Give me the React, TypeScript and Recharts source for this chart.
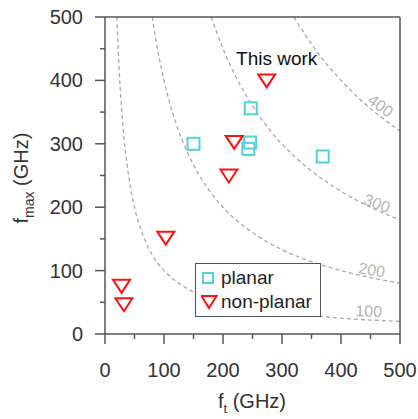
import { ComposedChart, Line, Scatter, XAxis, YAxis, Legend, ReferenceDot } from 'recharts';

const planarFt = [150, 247, 246, 243, 369];
const planarFmax = [300, 356, 302, 292, 280];
const nonPlanarFt = [274, 219, 210, 103, 28, 32];
const nonPlanarFmax = [400, 303, 250, 152, 76, 47];

// dashed iso-lines sqrt(ft*fmax) = 100..400
const isoFt = [20, 25, 30, 40, 50, 60, 80, 100, 130, 160, 200, 250, 300, 350, 400, 450, 500];
const iso100 = [500, 400, 333, 250, 200, 167, 125, 100, 77, 62, 50, 40, 33, 29, 25, 22, 20];
const iso200Ft = [80, 90, 100, 120, 140, 160, 200, 250, 300, 350, 400, 450, 500];
const iso200 = [500, 444, 400, 333, 286, 250, 200, 160, 133, 114, 100, 89, 80];
const iso300Ft = [180, 200, 220, 250, 280, 320, 360, 400, 450, 500];
const iso300 = [500, 450, 409, 360, 321, 281, 250, 225, 200, 180];
const iso400Ft = [320, 340, 360, 380, 400, 430, 460, 500];
const iso400 = [500, 471, 444, 421, 400, 372, 348, 320];

const isoLabels = ['100', '200', '300', '400'];
const ticks = [0, 50, 100, 150, 200, 250, 300, 350, 400, 450, 500];

const planarData = planarFt.map((x, i) => ({ x, y: planarFmax[i] }));
const nonPlanarData = nonPlanarFt.map((x, i) => ({ x, y: nonPlanarFmax[i] }));
const isoData = [
  isoFt.map((x, i) => ({ x, y: iso100[i] })),
  iso200Ft.map((x, i) => ({ x, y: iso200[i] })),
  iso300Ft.map((x, i) => ({ x, y: iso300[i] })),
  iso400Ft.map((x, i) => ({ x, y: iso400[i] })),
];

const AXIS = '#555';
const CYAN = '#4fd3d8';
const RED = '#ff1010';
const FONT = 'Arial, "Liberation Sans", Helvetica, sans-serif';

const makeTick = (side: string) => (props: any) => {
  const { x, y, payload } = props;
  const major = payload.value % 100 === 0;
  const len = major ? 10 : 5;
  let line;
  let label = null;
  if (side === 'bottom') {
    line = <line x1={x} y1={y} x2={x} y2={y + len} stroke={AXIS} strokeWidth={1.5} />;
    if (major) label = <text x={x} y={y + 43} textAnchor="middle" fontSize={20} fill="#333" fontFamily={FONT}>{payload.value}</text>;
  } else if (side === 'left') {
    line = <line x1={x - len} y1={y} x2={x} y2={y} stroke={AXIS} strokeWidth={1.5} />;
    if (major) label = <text x={x - 22} y={y + 7} textAnchor="end" fontSize={20} fill="#333" fontFamily={FONT}>{payload.value}</text>;
  } else if (side === 'top') {
    line = <line x1={x} y1={y} x2={x} y2={y - len} stroke={AXIS} strokeWidth={1.5} />;
  } else {
    line = <line x1={x} y1={y} x2={x + len} y2={y} stroke={AXIS} strokeWidth={1.5} />;
  }
  return <g>{line}{label}</g>;
};

const Square = (props: any) => (
  <rect x={props.cx - 6} y={props.cy - 6} width={12} height={12} fill="none" stroke={CYAN} strokeWidth={2} />
);

const Triangle = (props: any) => (
  <path
    d={`M${props.cx - 8.5},${props.cy - 6} L${props.cx + 8.5},${props.cy - 6} L${props.cx},${props.cy + 7} Z`}
    fill="none"
    stroke={RED}
    strokeWidth={2}
  />
);

const isoText = (text: string, angle: number) => (p: any) => (
  <text
    x={p.cx}
    y={p.cy}
    transform={`rotate(${angle} ${p.cx} ${p.cy})`}
    textAnchor="middle"
    dominantBaseline="central"
    fontSize={16}
    fill="#b4b4b4"
    fontFamily={FONT}
  >
    {text}
  </text>
);

const renderLegend = () => (
  <div
    style={{
      border: `1.5px solid ${AXIS}`,
      background: '#fff',
      boxSizing: 'border-box',
      width: 126,
      height: 54,
      fontFamily: FONT,
      fontSize: 19,
      color: '#222',
      padding: '2px 0 0 5px',
      lineHeight: '24px',
    }}
  >
    <div style={{ display: 'flex', alignItems: 'center' }}>
      <svg width={18} height={24}>
        <rect x={2} y={7} width={10} height={10} fill="none" stroke={CYAN} strokeWidth={2} />
      </svg>
      <span style={{ marginLeft: 2 }}>planar</span>
    </div>
    <div style={{ display: 'flex', alignItems: 'center' }}>
      <svg width={18} height={24}>
        <path d="M0.5,6 L15.5,6 L8,18 Z" fill="none" stroke={RED} strokeWidth={2} />
      </svg>
      <span style={{ marginLeft: 2 }}>non-planar</span>
    </div>
  </div>
);

export default function App() {
  return (
    <div style={{ position: 'absolute', left: 0, top: 0, background: '#fff' }}>
      <ComposedChart width={418} height={419} margin={{ top: 0, right: 0, bottom: 0, left: 0 }}>
        <XAxis
          type="number"
          dataKey="x"
          domain={[0, 500]}
          ticks={ticks}
          height={85}
          tickSize={0}
          tickMargin={0}
          tick={makeTick('bottom')}
          axisLine={{ stroke: AXIS, strokeWidth: 1.5 }}
          interval={0}
          label={{
            content: () => (
              <text x={252} y={408} textAnchor="middle" fontSize={20} fill="#333" fontFamily={FONT}>
                f<tspan fontSize={13} dy={5}>t</tspan>
                <tspan dy={-5}> (GHz)</tspan>
              </text>
            ),
          }}
        />
        <XAxis
          xAxisId="top"
          orientation="top"
          type="number"
          domain={[0, 500]}
          ticks={ticks}
          height={17}
          tickSize={0}
          tickMargin={0}
          tick={makeTick('top')}
          axisLine={{ stroke: AXIS, strokeWidth: 1.5 }}
          interval={0}
        />
        <YAxis
          type="number"
          dataKey="y"
          domain={[0, 500]}
          ticks={ticks}
          width={105}
          tickSize={0}
          tickMargin={0}
          tick={makeTick('left')}
          axisLine={{ stroke: AXIS, strokeWidth: 1.5 }}
          interval={0}
          label={{
            content: () => (
              <text
                x={28}
                y={178}
                transform="rotate(-90 28 178)"
                textAnchor="middle"
                fontSize={20}
                fill="#333"
                fontFamily={FONT}
              >
                f<tspan fontSize={14} dy={6}>max</tspan>
                <tspan dy={-6}> (GHz)</tspan>
              </text>
            ),
          }}
        />
        <YAxis
          yAxisId="right"
          orientation="right"
          type="number"
          domain={[0, 500]}
          ticks={ticks}
          width={18}
          tickSize={0}
          tickMargin={0}
          tick={makeTick('right')}
          axisLine={{ stroke: AXIS, strokeWidth: 1.5 }}
          interval={0}
        />
        {isoData.map((d, i) => (
          <Line
            key={`iso-${i}`}
            data={d}
            dataKey="y"
            type="monotone"
            dot={false}
            activeDot={false}
            stroke="#a8a8a8"
            strokeWidth={1.3}
            strokeDasharray="4 3"
            isAnimationActive={false}
            legendType="none"
          />
        ))}
        <ReferenceDot x={447} y={36} r={0} shape={isoText(isoLabels[0], 2)} />
        <ReferenceDot x={452} y={101} r={0} shape={isoText(isoLabels[1], 9)} />
        <ReferenceDot x={461} y={206} r={0} shape={isoText(isoLabels[2], 21)} />
        <ReferenceDot x={467} y={360} r={0} shape={isoText(isoLabels[3], 36)} />
        <ReferenceDot
          x={291}
          y={434}
          r={0}
          shape={(p: any) => (
            <text x={p.cx} y={p.cy} textAnchor="middle" dominantBaseline="central" fontSize={19} fill="#111" fontFamily={FONT}>
              This work
            </text>
          )}
        />
        <Scatter name="planar" data={planarData} shape={Square} isAnimationActive={false} />
        <Scatter name="non-planar" data={nonPlanarData} shape={Triangle} isAnimationActive={false} />
        <Legend
          layout="horizontal"
          verticalAlign="middle"
          align="center"
          content={renderLegend}
          wrapperStyle={{ position: 'absolute', left: 195, top: 263, width: 126, height: 54 }}
        />
      </ComposedChart>
    </div>
  );
}
